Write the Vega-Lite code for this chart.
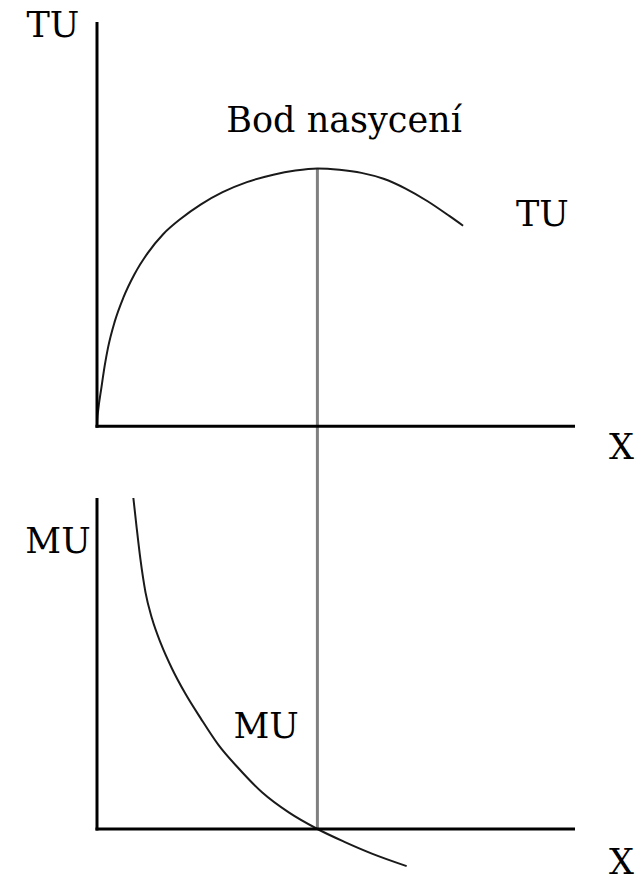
{
  "$schema": "https://vega.github.io/schema/vega-lite/v6.json",
  "width": 643,
  "height": 882,
  "autosize": {"type": "none"},
  "padding": 0,
  "background": "white",
  "config": {"view": {"stroke": null}},
  "datasets": {
    "tuCurve": [
      {"x": 0, "tu": 0},
      {"x": 0.01, "tu": 0.25},
      {"x": 0.05, "tu": 0.6},
      {"x": 0.2, "tu": 1.5},
      {"x": 0.35, "tu": 2.35},
      {"x": 0.5, "tu": 3.05},
      {"x": 0.8, "tu": 4.05},
      {"x": 1.2, "tu": 5.0},
      {"x": 1.7, "tu": 5.9},
      {"x": 2.3, "tu": 6.72},
      {"x": 3.0, "tu": 7.45},
      {"x": 3.8, "tu": 8.05},
      {"x": 4.7, "tu": 8.6},
      {"x": 5.7, "tu": 9.08},
      {"x": 6.8, "tu": 9.47},
      {"x": 8.0, "tu": 9.76},
      {"x": 9.0, "tu": 9.92},
      {"x": 10, "tu": 10},
      {"x": 11, "tu": 9.95},
      {"x": 12, "tu": 9.83},
      {"x": 13, "tu": 9.6},
      {"x": 14, "tu": 9.22},
      {"x": 15, "tu": 8.73},
      {"x": 16, "tu": 8.15},
      {"x": 16.61, "tu": 7.78}
    ],
    "muCurve": [
      {"x": 1.65, "mu": 10},
      {"x": 1.8, "mu": 9.1},
      {"x": 1.97, "mu": 8.15},
      {"x": 2.2, "mu": 7.15},
      {"x": 2.5, "mu": 6.35},
      {"x": 2.9, "mu": 5.6},
      {"x": 3.4, "mu": 4.85},
      {"x": 4.0, "mu": 4.1},
      {"x": 4.7, "mu": 3.35},
      {"x": 5.5, "mu": 2.55},
      {"x": 6.4, "mu": 1.85},
      {"x": 7.5, "mu": 1.1},
      {"x": 8.7, "mu": 0.5},
      {"x": 10, "mu": 0},
      {"x": 11.2, "mu": -0.38},
      {"x": 12.5, "mu": -0.75},
      {"x": 14.05, "mu": -1.12}
    ],
    "saturation": [
      {"x": 10, "tu": 10, "tu2": -15.62}
    ],
    "topAxes": [
      {"x": 0, "x2": 0, "tu": 0, "tu2": 15.62},
      {"x": 0, "x2": 21.62, "tu": 0, "tu2": 0}
    ],
    "bottomAxes": [
      {"x": 0, "x2": 0, "mu": 0, "mu2": 9.955},
      {"x": 0, "x2": 21.62, "mu": 0, "mu2": 0}
    ],
    "topLabels": [
      {"x": -2.0, "tu": 15.1, "label": "TU"},
      {"x": 11.21, "tu": 11.42, "label": "Bod nasycení"},
      {"x": 20.21, "tu": 7.77, "label": "TU"},
      {"x": 23.8, "tu": -1.27, "label": "X"}
    ],
    "bottomLabels": [
      {"x": -1.77, "mu": 8.34, "label": "MU"},
      {"x": 7.67, "mu": 2.75, "label": "MU"},
      {"x": 23.8, "mu": -1.36, "label": "X"}
    ]
  },
  "layer": [
    {
      "layer": [
        {
          "data": {"name": "saturation"},
          "mark": {"type": "rule", "color": "#808080", "strokeWidth": 3},
          "encoding": {
            "x": {"field": "x", "type": "quantitative", "scale": {"domain": [-4.401, 24.773]}, "axis": null},
            "y": {"field": "tu", "type": "quantitative", "scale": {"domain": [-17.677, 16.536]}, "axis": null},
            "y2": {"field": "tu2"}
          }
        },
        {
          "data": {"name": "tuCurve"},
          "mark": {"type": "line", "color": "#1a1a1a", "strokeWidth": 2, "interpolate": "monotone"},
          "encoding": {
            "x": {"field": "x", "type": "quantitative", "scale": {"domain": [-4.401, 24.773]}, "axis": null},
            "y": {"field": "tu", "type": "quantitative", "scale": {"domain": [-17.677, 16.536]}, "axis": null}
          }
        },
        {
          "data": {"name": "topAxes"},
          "mark": {"type": "rule", "color": "black", "strokeWidth": 3, "strokeCap": "square"},
          "encoding": {
            "x": {"field": "x", "type": "quantitative", "scale": {"domain": [-4.401, 24.773]}, "axis": null},
            "x2": {"field": "x2"},
            "y": {"field": "tu", "type": "quantitative", "scale": {"domain": [-17.677, 16.536]}, "axis": null},
            "y2": {"field": "tu2"}
          }
        },
        {
          "data": {"name": "topLabels"},
          "mark": {"type": "text", "font": "DejaVu Serif", "fontSize": 35, "color": "black", "align": "center", "baseline": "alphabetic"},
          "encoding": {
            "x": {"field": "x", "type": "quantitative", "scale": {"domain": [-4.401, 24.773]}, "axis": null},
            "y": {"field": "tu", "type": "quantitative", "scale": {"domain": [-17.677, 16.536]}, "axis": null},
            "text": {"field": "label"}
          }
        }
      ]
    },
    {
      "layer": [
        {
          "data": {"name": "muCurve"},
          "mark": {"type": "line", "color": "#1a1a1a", "strokeWidth": 2, "interpolate": "monotone"},
          "encoding": {
            "x": {"field": "x", "type": "quantitative", "scale": {"domain": [-4.401, 24.773]}, "axis": null},
            "y": {"field": "mu", "type": "quantitative", "scale": {"domain": [-1.601, 25.045]}, "axis": null}
          }
        },
        {
          "data": {"name": "bottomAxes"},
          "mark": {"type": "rule", "color": "black", "strokeWidth": 3, "strokeCap": "square"},
          "encoding": {
            "x": {"field": "x", "type": "quantitative", "scale": {"domain": [-4.401, 24.773]}, "axis": null},
            "x2": {"field": "x2"},
            "y": {"field": "mu", "type": "quantitative", "scale": {"domain": [-1.601, 25.045]}, "axis": null},
            "y2": {"field": "mu2"}
          }
        },
        {
          "data": {"name": "bottomLabels"},
          "mark": {"type": "text", "font": "DejaVu Serif", "fontSize": 35, "color": "black", "align": "center", "baseline": "alphabetic"},
          "encoding": {
            "x": {"field": "x", "type": "quantitative", "scale": {"domain": [-4.401, 24.773]}, "axis": null},
            "y": {"field": "mu", "type": "quantitative", "scale": {"domain": [-1.601, 25.045]}, "axis": null},
            "text": {"field": "label"}
          }
        }
      ]
    }
  ],
  "resolve": {"scale": {"y": "independent"}}
}
